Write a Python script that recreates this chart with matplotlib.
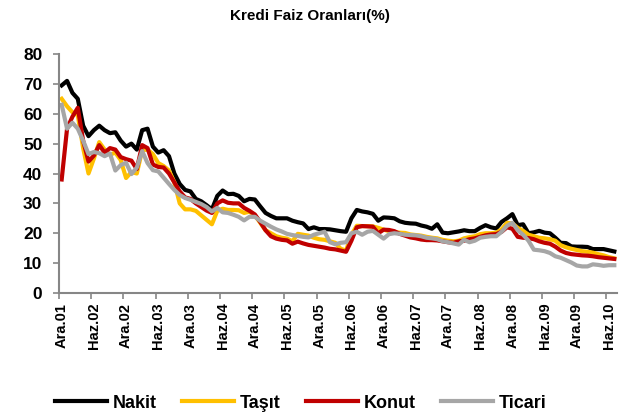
import numpy as np
import matplotlib
matplotlib.use('Agg')
import matplotlib.pyplot as plt

# monthly series, Ara.01 .. Tem.10
nakit = [69.5, 71, 67, 65, 56, 52.5, 54.5, 56, 54.5, 53.5,
         53.8, 51, 49, 50, 48, 54.5, 55, 49, 47, 47.8,
         45.8, 40, 36.5, 34.5, 34, 31.5, 30.7, 29.4, 28, 32.5,
         34.3, 33.1, 33.2, 32.5, 30.7, 31.5, 31.3, 29, 26.8, 25.8,
         25, 25, 25, 24.2, 23.7, 23.3, 21.4, 22, 21.4, 21.4,
         21.3, 21, 20.7, 20.5, 25, 27.8, 27.3, 27, 26.5, 24.2,
         25.3, 25.2, 25, 24, 23.5, 23.3, 23.2, 22.6, 22.2, 21.5,
         23, 20.2, 20, 20.3, 20.6, 21, 20.7, 20.7, 21.8, 22.7,
         22, 21.6, 23.8, 25, 26.4, 22.7, 23, 20, 20.3, 20.8,
         20.2, 20, 18.5, 16.8, 16.7, 15.6, 15.5, 15.5, 15.4, 14.7,
         14.7, 14.7, 14.3, 13.9]

tasit = [65, 62.5, 60.5, 59.5, 48.5, 40, 45, 50.5, 48, 46.3,
         47, 44.5, 38.5, 40.5, 40, 47.8, 48, 46.5, 43.5, 42.5,
         41, 37, 30, 28, 28, 27.5, 26, 24.5, 23, 27.5,
         28.2, 27.8, 27.8, 27.7, 26.8, 27.2, 26, 23.5, 21, 20,
         19, 18.5, 18.2, 17.3, 19.8, 19.5, 19.2, 18.5, 18, 17.8,
         17.3, 16.8, 14.8, 14.2, 19.5, 22.5, 22.4, 22.4, 22.3, 21.8,
         21.2, 20.7, 20.4, 20.2, 20.1, 19.6, 19.4, 19.2, 18.8, 18.5,
         18.3, 17.8, 17.5, 17.3, 17.5, 18.3, 18.7, 19, 19.7, 20,
         20, 20.2, 21.3, 23.5, 23.3, 21.8, 20.8, 19.5, 19, 18.5,
         18.3, 18, 17.5, 16, 15.3, 14.8, 14.4, 14, 13.8, 13.5,
         13, 12.6, 12, 11.6]

konut = [38, 55, 59, 62, 51, 44, 46, 49.5, 47, 48.5,
         48, 45.5, 44.8, 44.3, 41.5, 49.5, 48.5, 43, 42.2, 42,
         40, 37, 34, 32, 31.5, 30, 28.8, 27.6, 26.8, 30,
         31, 30.2, 30, 30, 28.5, 27.5, 26.3, 23.8, 21, 19,
         18.2, 17.8, 17.6, 16.5, 17.2, 16.6, 16.1, 15.8, 15.5, 15.2,
         14.8, 14.6, 14.2, 13.8, 17.5, 22, 22.4, 22.3, 22.2, 20,
         21.2, 21.1, 20.7, 19.8, 19.2, 18.6, 18.3, 17.9, 17.7, 17.7,
         17.6, 17.3, 17, 16.8, 17.3, 17.5, 18, 18.3, 18.8, 19.3,
         19.6, 19.7, 20.5, 22, 21.5, 18.8, 18.5, 18.4, 18, 17.3,
         16.8, 16.5, 15.5, 14.2, 13.4, 13, 12.8, 12.6, 12.5, 12.3,
         12, 11.8, 11.6, 11.4]

ticari = [63, 55, 57, 55, 51, 46.5, 47.2, 46.8, 45.8, 46.7,
          41, 42.8, 43.6, 39.8, 42, 47.5, 43.5, 41.1, 40.7, 38.6,
          36.5, 34.5, 32.8, 31.8, 31.2, 30.5, 29.8, 28.8, 27.3, 28.5,
          27, 26.8, 26.2, 25.5, 24.3, 25.5, 25.5, 24.2, 23.2, 22.2,
          21.3, 20.6, 19.8, 19.4, 19.1, 18.8, 18.6, 19.5, 20, 20.5,
          17, 16.3, 16.8, 17, 20, 20.5, 19.5, 20.5, 20.8, 19.5,
          18.2, 19.7, 20, 19.8, 19.5, 19.4, 19.3, 19, 18.5, 18.3,
          18, 17.3, 17, 16.6, 16.2, 17.8, 17, 17.5, 18.5, 18.8,
          19, 19, 20.5, 22.5, 23.5, 21, 19.5, 17.5, 14.5, 14.3,
          14, 13.4, 12.3, 11.8, 11, 10.2, 9.2, 8.9, 8.9, 9.6,
          9.4, 9.1, 9.3, 9.3]

tick_labels = ['Ara.01', 'Haz.02', 'Ara.02', 'Haz.03', 'Ara.03', 'Haz.04',
               'Ara.04', 'Haz.05', 'Ara.05', 'Haz.06', 'Ara.06', 'Haz.07',
               'Ara.07', 'Haz.08', 'Ara.08', 'Haz.09', 'Ara.09', 'Haz.10']

series_names = ['Nakit', 'Taşıt', 'Konut', 'Ticari']
colors = ['#000000', '#FFC000', '#C00000', '#A6A6A6']

plt.rcParams['font.family'] = ['Liberation Sans', 'DejaVu Sans']
plt.rcParams['font.weight'] = 'bold'

fig = plt.figure(figsize=(6.2, 4.16), dpi=100)
ax = fig.add_axes([59 / 620, 123 / 416, 558 / 620, 239 / 416])

x = np.arange(len(nakit))
for vals, name, c in zip([nakit, tasit, konut, ticari], series_names, colors):
    ax.plot(x, vals, color=c, lw=3, label=name, solid_joinstyle='round')

ax.set_xlim(-0.5, len(nakit) - 0.5)
ax.set_ylim(0, 80)
ax.set_yticks(np.arange(0, 81, 10))

# labels every 6 months, tick marks between categories
ax.set_xticks(np.arange(0, len(tick_labels) * 6, 6))
ax.set_xticklabels(tick_labels, rotation=90, fontsize=10.5, fontweight='bold')
ax.set_xticks(np.arange(-0.5, len(nakit), 6), minor=True)
ax.tick_params(axis='x', which='major', length=0, pad=7)
ax.tick_params(axis='x', which='minor', length=4, width=1.2, color='#868686', direction='out')
ax.tick_params(axis='y', length=4, width=1.2, color='#868686', pad=8, labelsize=12.5)
for lab in ax.get_yticklabels():
    lab.set_fontweight('bold')

for s in ['top', 'right']:
    ax.spines[s].set_visible(False)
for s in ['left', 'bottom']:
    ax.spines[s].set_color('#868686')
    ax.spines[s].set_linewidth(1.5)

fig.text(0.5, 1 - 16 / 416, 'Kredi Faiz Oranları(%)', ha='center', va='center',
         fontsize=11, fontweight='bold')

fig.legend(loc='center', bbox_to_anchor=(0.485, 13 / 416), ncol=4, frameon=False,
           prop={'size': 13, 'weight': 'bold'}, handlelength=2.9,
           handletextpad=0.3, columnspacing=1.4)

fig.savefig('out.png', dpi=100)
